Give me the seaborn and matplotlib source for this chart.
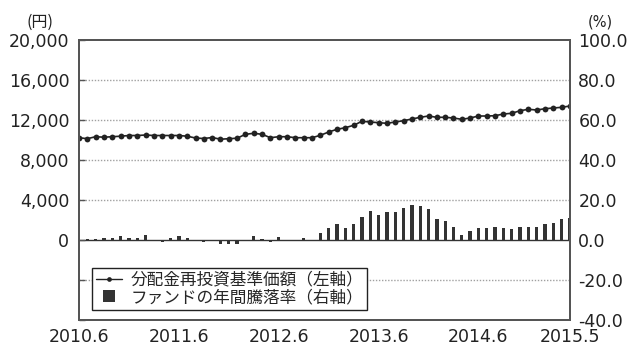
import matplotlib
matplotlib.use("Agg")
import matplotlib.pyplot as plt
from matplotlib.lines import Line2D
from matplotlib.ticker import FuncFormatter
import seaborn as sns
import pandas as pd

# Monthly series, 2010.6 - 2015.5
nav = [10230, 10130, 10330, 10280, 10330, 10380, 10450, 10450, 10500, 10450,
       10450, 10450, 10450, 10380, 10200, 10150, 10250, 10080, 10130, 10180,
       10570, 10670, 10570, 10230, 10330, 10330, 10230, 10230, 10230, 10470,
       10800, 11070, 11230, 11470, 11870, 11800, 11730, 11670, 11800, 11930,
       12100, 12270, 12400, 12270, 12270, 12200, 12070, 12200, 12400, 12400,
       12430, 12600, 12670, 12930, 13070, 13000, 13130, 13200, 13270, 13400]
annual_return = [0.0, 0.3, 0.5, 0.8, 0.8, 1.8, 0.8, 1.2, 2.5, -0.5,
                 -1.2, 1.2, 1.8, 0.8, 0.0, -1.0, 0.0, -2.0, -2.0, -1.8,
                 0.0, 1.8, 0.6, -1.2, 1.5, -0.7, 0.0, 1.0, 0.0, 3.5,
                 5.8, 8.2, 6.0, 8.0, 11.7, 14.3, 12.5, 13.9, 14.0, 16.0,
                 17.5, 17.0, 15.3, 10.7, 9.5, 6.5, 2.5, 4.5, 6.2, 6.2,
                 6.4, 6.0, 5.3, 6.3, 6.3, 6.6, 7.8, 8.7, 10.4, 10.8]
tick_months = [0, 12, 24, 36, 48, 59]
tick_labels = ["2010.6", "2011.6", "2012.6", "2013.6", "2014.6", "2015.5"]
legend_labels = ["分配金再投資基準価額（左軸）", "ファンドの年間騰落率（右軸）"]

df = pd.DataFrame({"month": range(len(nav)), "nav": nav, "ret": annual_return})

sns.set_theme(style="white")
plt.rcParams["font.family"] = ["DejaVu Sans", "Noto Sans CJK JP"]

fig = plt.figure(figsize=(6.29, 3.47), dpi=100)
ax = fig.add_axes([0.1256, 0.0778, 0.7806, 0.8069])
ax2 = ax.twinx()

ink = "#222222"
bar_color = "#333333"

# bars: annual return on the right axis
sns.barplot(data=df, x="month", y="ret", native_scale=True, ax=ax2,
            color=bar_color, saturation=1, width=0.4, errorbar=None,
            linewidth=0)
ax2.axhline(0, color="#333333", lw=1, zorder=3)

# line: NAV on the left axis
sns.lineplot(data=df, x="month", y="nav", ax=ax, color=ink, lw=1.2,
             marker="o", markersize=4.2, markeredgewidth=0)

ax.set_zorder(ax2.get_zorder() + 1)
ax.patch.set_visible(False)

ax.set_xlim(0, 59)
ax.set_ylim(-8000, 20000)
ax2.set_ylim(-40, 100)

ax.set_yticks(range(-8000, 20001, 4000))
ax.yaxis.set_major_formatter(FuncFormatter(lambda v, p: "" if v < 0 else f"{v:,.0f}"))
ax2.set_yticks(range(-40, 101, 20))
ax2.yaxis.set_major_formatter(FuncFormatter(lambda v, p: f"{v:.1f}"))
ax.set_xticks(tick_months)
ax.set_xticklabels(tick_labels)

ax.set_xlabel("")
ax.set_ylabel("")
ax2.set_xlabel("")
ax2.set_ylabel("")

# dotted horizontal guides
for v in [-4000, 4000, 8000, 12000, 16000]:
    ax.axhline(v, color="#a0a0a0", lw=1, ls=(0, (1, 1.2)), zorder=0)

ax.tick_params(axis="y", direction="in", length=4, width=1, color="#555555",
               labelsize=12.5, labelcolor=ink, pad=7)
ax.tick_params(axis="x", length=0, labelsize=12.5, labelcolor=ink, pad=6)
ax2.tick_params(axis="y", direction="in", length=0, labelsize=12.5,
                labelcolor=ink, pad=6)

for a in (ax, ax2):
    for s in a.spines.values():
        s.set_color("#555555")
        s.set_linewidth(1.4)

fig.text(40 / 629, 1 - 22 / 347, "(円)", ha="center", va="center",
         fontsize=11.5, color=ink, family=["Noto Sans CJK JP", "DejaVu Sans"])
fig.text(600 / 629, 1 - 22 / 347, "(%)", ha="center", va="center",
         fontsize=10.5, color=ink, family=["DejaVu Sans"])

handles = [Line2D([], [], color=ink, lw=1, marker="o", markersize=3.4,
                  markeredgewidth=0),
           Line2D([], [], color=bar_color, lw=0, marker="s", markersize=8,
                  markeredgewidth=0)]
leg = ax.legend(handles, legend_labels, loc="upper left",
                bbox_to_anchor=(0.0265, 0.186), borderaxespad=0,
                prop={"family": ["Noto Sans CJK JP", "DejaVu Sans"], "size": 12},
                frameon=True, fancybox=False, framealpha=1, edgecolor="#222222",
                handlelength=1.6, handletextpad=0.5, labelspacing=0.02,
                borderpad=0.22)
leg.get_frame().set_linewidth(1)

fig.savefig("out.png", dpi=100, facecolor="white")
